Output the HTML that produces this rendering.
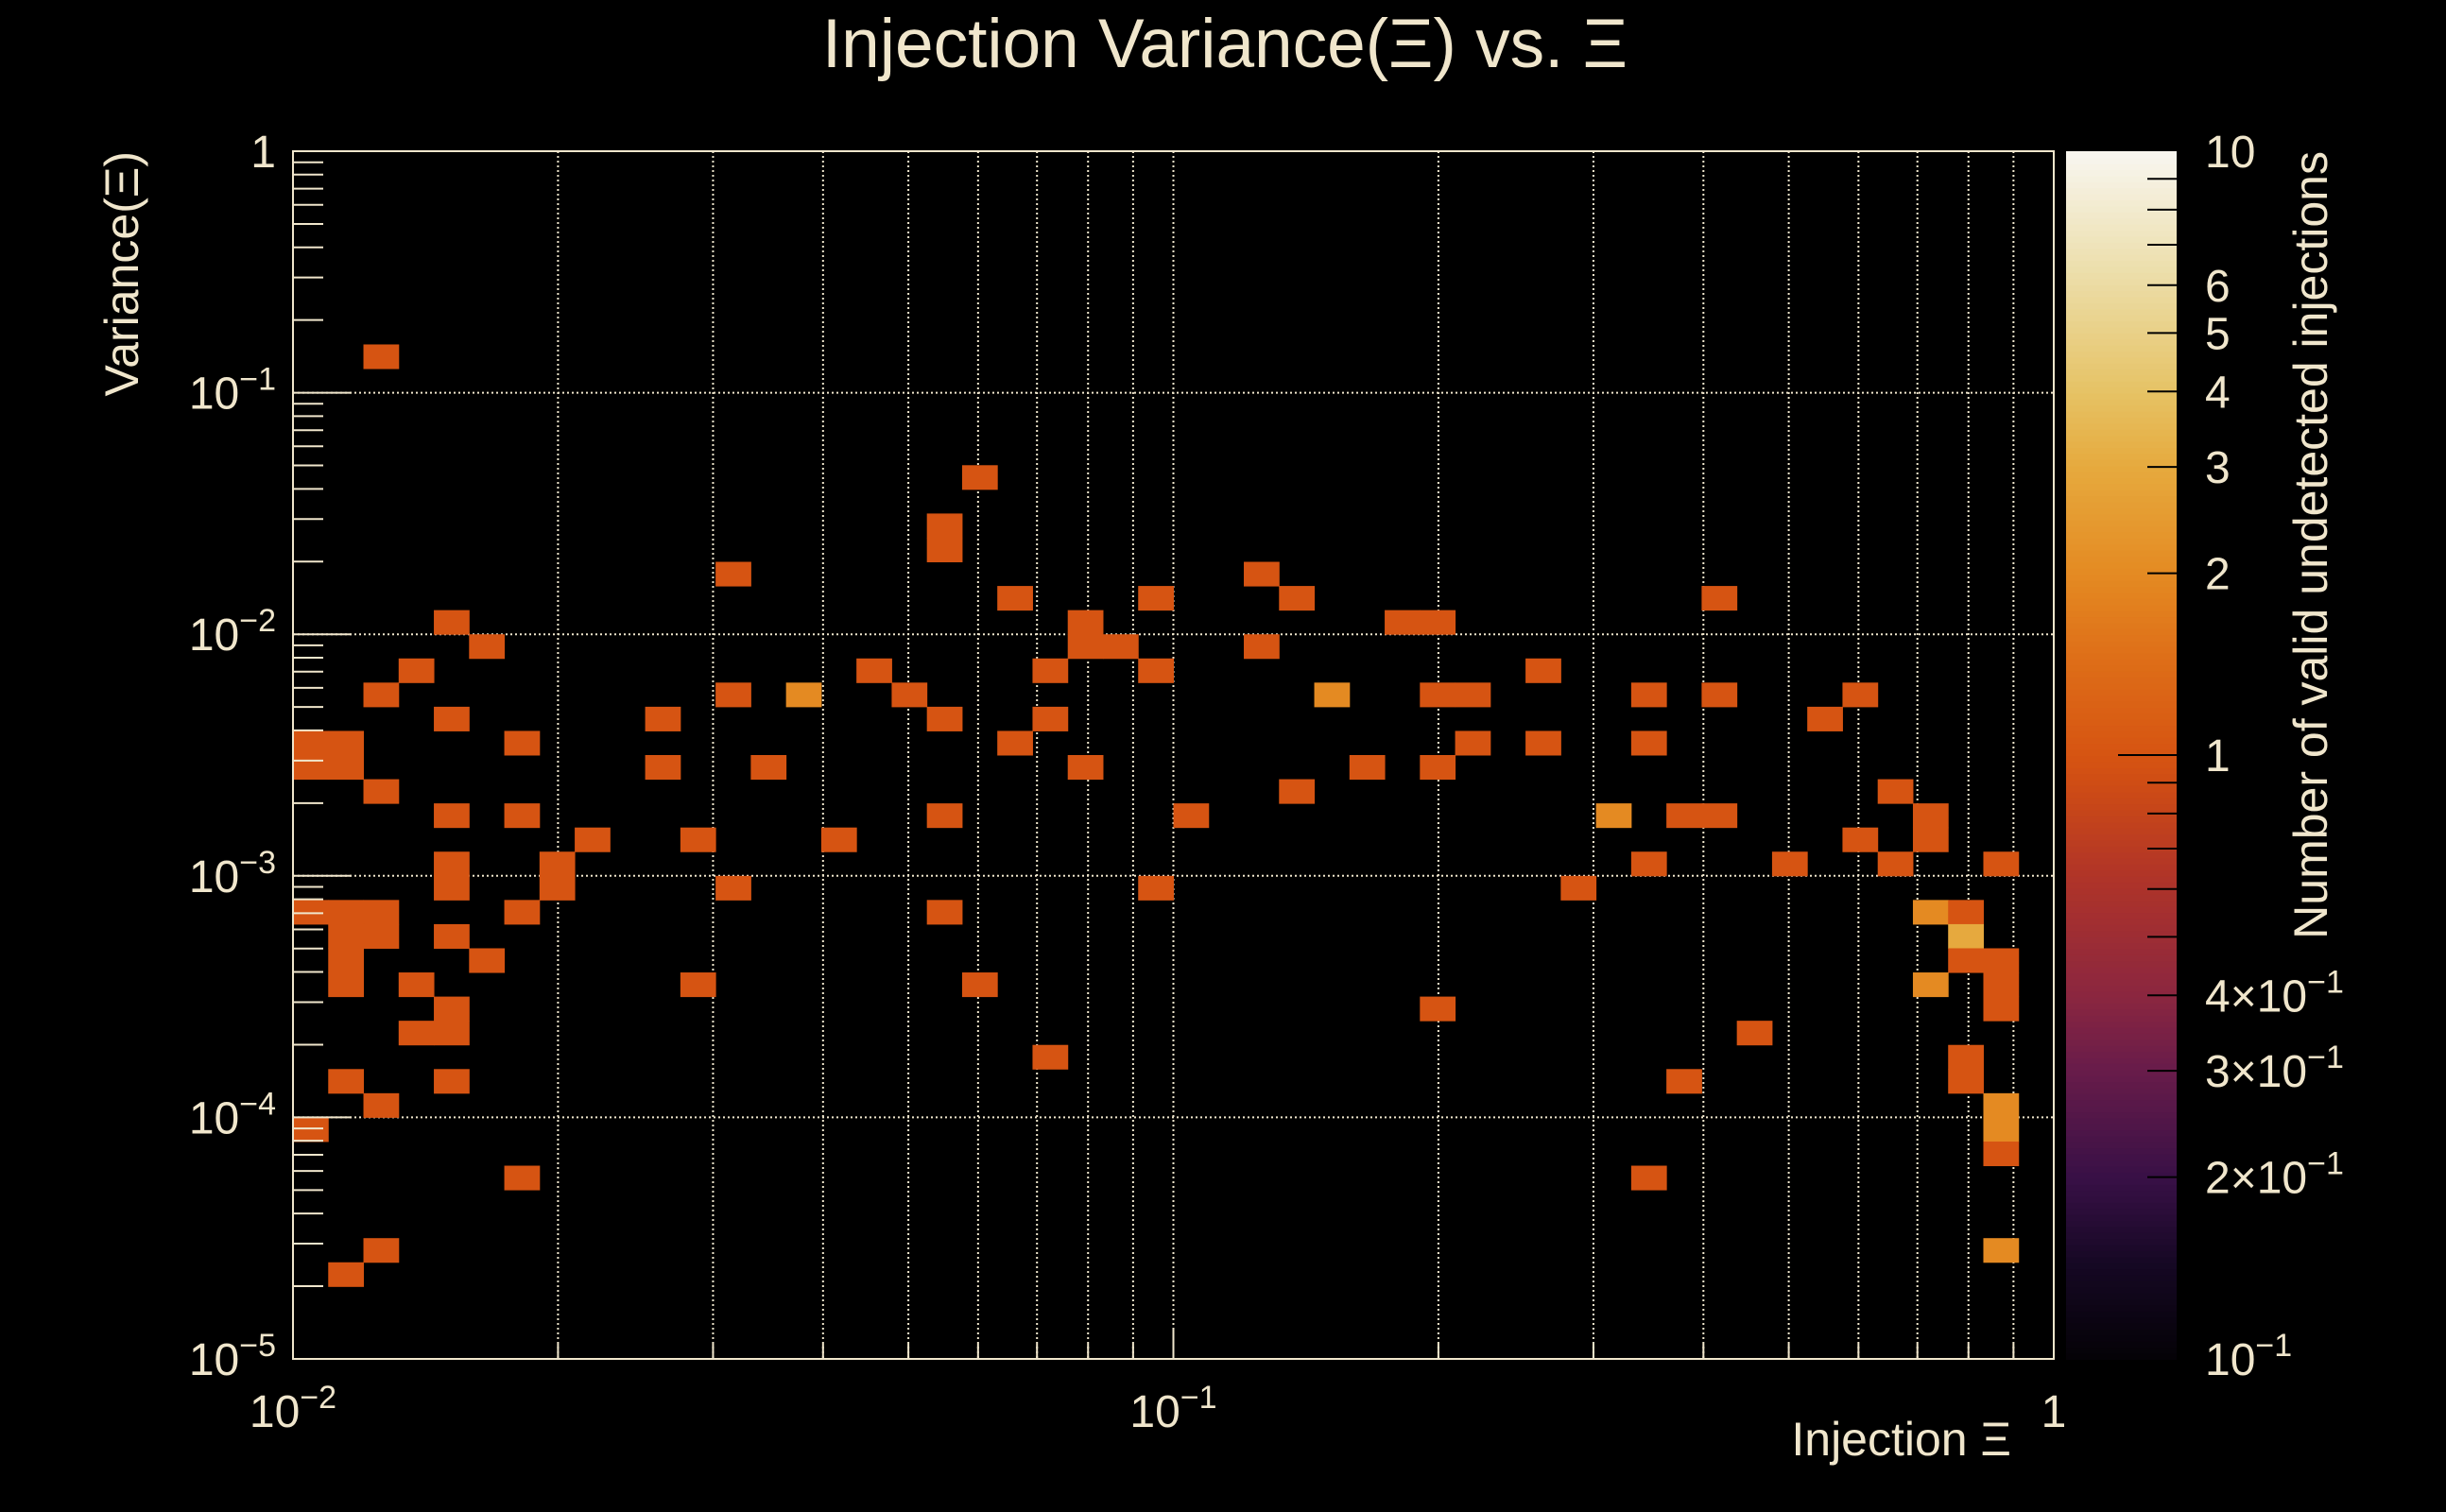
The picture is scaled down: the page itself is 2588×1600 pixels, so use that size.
<!DOCTYPE html>
<html><head><meta charset="utf-8"><style>
html,body{margin:0;padding:0;background:#000;}
svg{display:block;font-family:"Liberation Sans",sans-serif;}
</style></head><body>
<svg id="chart" xmlns="http://www.w3.org/2000/svg" width="2588" height="1600" viewBox="0 0 2588 1600">
<rect x="0" y="0" width="2588" height="1600" fill="#000"/>
<text x="1296" y="71" font-size="73" fill="#f0e6cc" text-anchor="middle">Injection Variance(Ξ) vs. Ξ</text>
<g id="grid"></g>
<g id="cells"></g>
<g id="axes"></g>
<g id="cbar"></g>
<text transform="translate(146,160) rotate(-90)" font-size="50" fill="#f0e6cc" text-anchor="end">Variance(Ξ)</text>
<text x="2128" y="1540" font-size="50" fill="#f0e6cc" text-anchor="end">Injection Ξ</text>
<text transform="translate(2462,160) rotate(-90)" font-size="50" fill="#f0e6cc" text-anchor="end">Number of valid undetected injections</text>
</svg>
<script>
// ---- data ----
const xBinIndex = [2,19,18,18,12,20,27,28,24,40,4,5,22,22,23,31,32,27,3,2,16,17,21,24,35,12,14,18,21,29,32,33,38,40,44,43,4,10,0,1,0,1,6,20,33,35,38,2,10,13,22,30,32,28,45,4,6,18,25,37,39,40,46,46,8,11,15,44,4,4,7,7,38,42,45,48,12,24,36,0,1,2,6,18,46,47,1,2,4,47,1,1,5,47,48,48,48,3,11,19,46,4,32,3,4,41,21,47,47,1,4,39,2,48,48,48,0,6,38,2,48,1];
const yBinFromTop = [8,13,15,16,17,18,17,18,18,18,19,20,19,20,20,19,19,20,21,22,21,22,21,21,21,22,22,23,23,22,22,22,22,22,22,23,23,23,24,24,25,25,24,24,24,24,24,26,25,25,25,25,25,26,26,27,27,27,27,27,27,27,27,28,28,28,28,28,29,30,29,30,29,29,29,29,30,30,30,31,31,31,31,31,31,31,32,32,32,32,33,34,33,33,33,34,35,34,34,34,34,35,35,36,36,36,37,37,38,38,38,38,39,39,40,41,40,42,42,45,45,46];
const counts = [1,1,1,1,1,1,1,1,1,1,1,1,1,1,1,1,1,1,1,1,1,1,1,1,1,1,2,1,1,2,1,1,1,1,1,1,1,1,1,1,1,1,1,1,1,1,1,1,1,1,1,1,1,1,1,1,1,1,1,2,1,1,1,1,1,1,1,1,1,1,1,1,1,1,1,1,1,1,1,1,1,1,1,1,2,1,1,1,1,3,1,1,1,1,1,1,1,1,1,1,2,1,1,1,1,1,1,1,1,1,1,1,1,2,2,1,1,1,1,1,2,1];
const xTickBase = ["10","10","1"];
const xTickExp = ["\u22122","\u22121",""];
const yTickBase = ["10","10","10","10","10","1"];
const yTickExp = ["\u22125","\u22124","\u22123","\u22122","\u22121",""];
const zTickValues = [0.1,0.2,0.3,0.4,1,2,3,4,5,6,10];
const zTickBase = ["10","2\u00d710","3\u00d710","4\u00d710","1","2","3","4","5","6","10"];
const zTickExp = ["\u22121","\u22121","\u22121","\u22121","","","","","","",""];

// ---- geometry ----
const L=310,R=2173,T=160,B=1438;
const XMIN=-2,XMAX=0,YMIN=-5,YMAX=0,NBX=50,NBY=50;
function xPix(lg){return L+(lg-XMIN)/(XMAX-XMIN)*(R-L);}
function yPix(lg){return B-(lg-YMIN)/(YMAX-YMIN)*(B-T);}
const CBL=2186,CBR=2303,ZMIN=-1,ZMAX=1;
function zPix(v){return B-(Math.log10(v)-ZMIN)/(ZMAX-ZMIN)*(B-T);}
const NS="http://www.w3.org/2000/svg";
function mk(tag,parent,attrs){const e=document.createElementNS(NS,tag);for(const k in attrs)e.setAttribute(k,attrs[k]);parent.appendChild(e);return e;}
const stops=[[0,[4,2,6]],[0.08,[22,8,36]],[0.15,[56,16,70]],[0.24,[104,28,74]],[0.3,[138,38,64]],[0.4,[176,52,40]],[0.47,[204,74,22]],[0.5,[214,84,18]],[0.58,[222,110,24]],[0.65,[228,138,34]],[0.74,[230,170,62]],[0.8,[230,194,100]],[0.9,[236,222,170]],[1,[248,246,240]]];
function colorAt(t){t=Math.max(0,Math.min(1,t));for(let i=1;i<stops.length;i++){if(t<=stops[i][0]){const a=stops[i-1],b=stops[i];const f=(t-a[0])/(b[0]-a[0]);const c=a[1].map((v,j)=>Math.round(v+(b[1][j]-v)*f));return `rgb(${c[0]},${c[1]},${c[2]})`;}}return "rgb(248,246,240)";}
const cream="#f0e6cc";
function label(parent,x,y,base,exp,anchor,name){
 const t=mk('text',parent,{x:x,y:y,'font-size':48,fill:cream,'text-anchor':anchor});
 const a=mk('tspan',t,{});a.textContent=base;
 if(exp){const b=mk('tspan',t,{dy:-20,'font-size':34});b.textContent=exp;}
 return t;}

// grid
const grid=document.getElementById('grid');
for(let d=XMIN;d<XMAX;d++){for(let m=1;m<=9;m++){const lg=d+Math.log10(m);if(lg<=XMIN)continue;const x=xPix(lg);
 const g=mk('line',grid,{x1:x,y1:T,x2:x,y2:B,stroke:cream,'stroke-width':2,'stroke-dasharray':'2 3'});
 }}
for(let d=YMIN+1;d<=YMAX;d++){const y=yPix(d);
 const g=mk('line',grid,{x1:L,y1:y,x2:R,y2:y,stroke:cream,'stroke-width':2,'stroke-dasharray':'2 3'});
 }

// cells
const cells=document.getElementById('cells');
const bw=(XMAX-XMIN)/NBX,bh=(YMAX-YMIN)/NBY;
for(let i=0;i<counts.length;i++){
 const x0=xPix(XMIN+xBinIndex[i]*bw),x1=xPix(XMIN+(xBinIndex[i]+1)*bw);
 const yTop=yPix(YMAX-yBinFromTop[i]*bh),yBot=yPix(YMAX-(yBinFromTop[i]+1)*bh);
 const t=(Math.log10(counts[i])-ZMIN)/(ZMAX-ZMIN);
 const r=mk('rect',cells,{x:x0,y:yTop,width:x1-x0+0.5,height:yBot-yTop+0.5,fill:colorAt(t)});
 
 
}

// axes
const axes=document.getElementById('axes');
const fr=mk('rect',axes,{x:L,y:T,width:R-L,height:B-T,fill:'none',stroke:cream,'stroke-width':2});

for(let d=YMIN;d<=YMAX;d++){for(let m=1;m<=9;m++){const lg=d+Math.log10(m);if(lg>YMAX)break;const y=yPix(lg);
 const len=m===1?62:32;
 const tk=mk('line',axes,{x1:L,y1:y,x2:L+len,y2:y,stroke:cream,'stroke-width':2});
 }}
yTickBase.forEach((b,i)=>{const y=yPix(YMIN+i);label(axes,292,y+17,b,yTickExp[i],'end','y-tick-label');});
for(let d=XMIN;d<=XMAX;d++){for(let m=1;m<=9;m++){const lg=d+Math.log10(m);if(lg>XMAX)break;const x=xPix(lg);
 const len=m===1?32:16;
 const tk=mk('line',axes,{x1:x,y1:B,x2:x,y2:B-len,stroke:cream,'stroke-width':2});
 }}
xTickBase.forEach((b,i)=>{const x=xPix(XMIN+i);
 label(axes,x,1510,b,xTickExp[i],'middle','x-tick-label');});

// colorbar
const cbar=document.getElementById('cbar');
const N=200;
for(let i=0;i<N;i++){const y0=B-(i+1)*(B-T)/N;
 const s=mk('rect',cbar,{x:CBL,y:y0,width:CBR-CBL,height:(B-T)/N+1,fill:colorAt((i+0.5)/N)});
 }
for(let d=ZMIN;d<ZMAX;d++){for(let m=2;m<=9;m++){const v=Math.pow(10,d)*m;const y=zPix(v);
 const tk=mk('line',cbar,{x1:CBR-31,y1:y,x2:CBR,y2:y,stroke:'#000','stroke-width':2});
 }}
const t1=mk('line',cbar,{x1:CBR-62,y1:zPix(1),x2:CBR,y2:zPix(1),stroke:'#000','stroke-width':2});

zTickValues.forEach((v,i)=>{const y=zPix(v);label(cbar,2333,y+17,zTickBase[i],zTickExp[i],'start','colorbar-tick-label');});
</script>
</body></html>
